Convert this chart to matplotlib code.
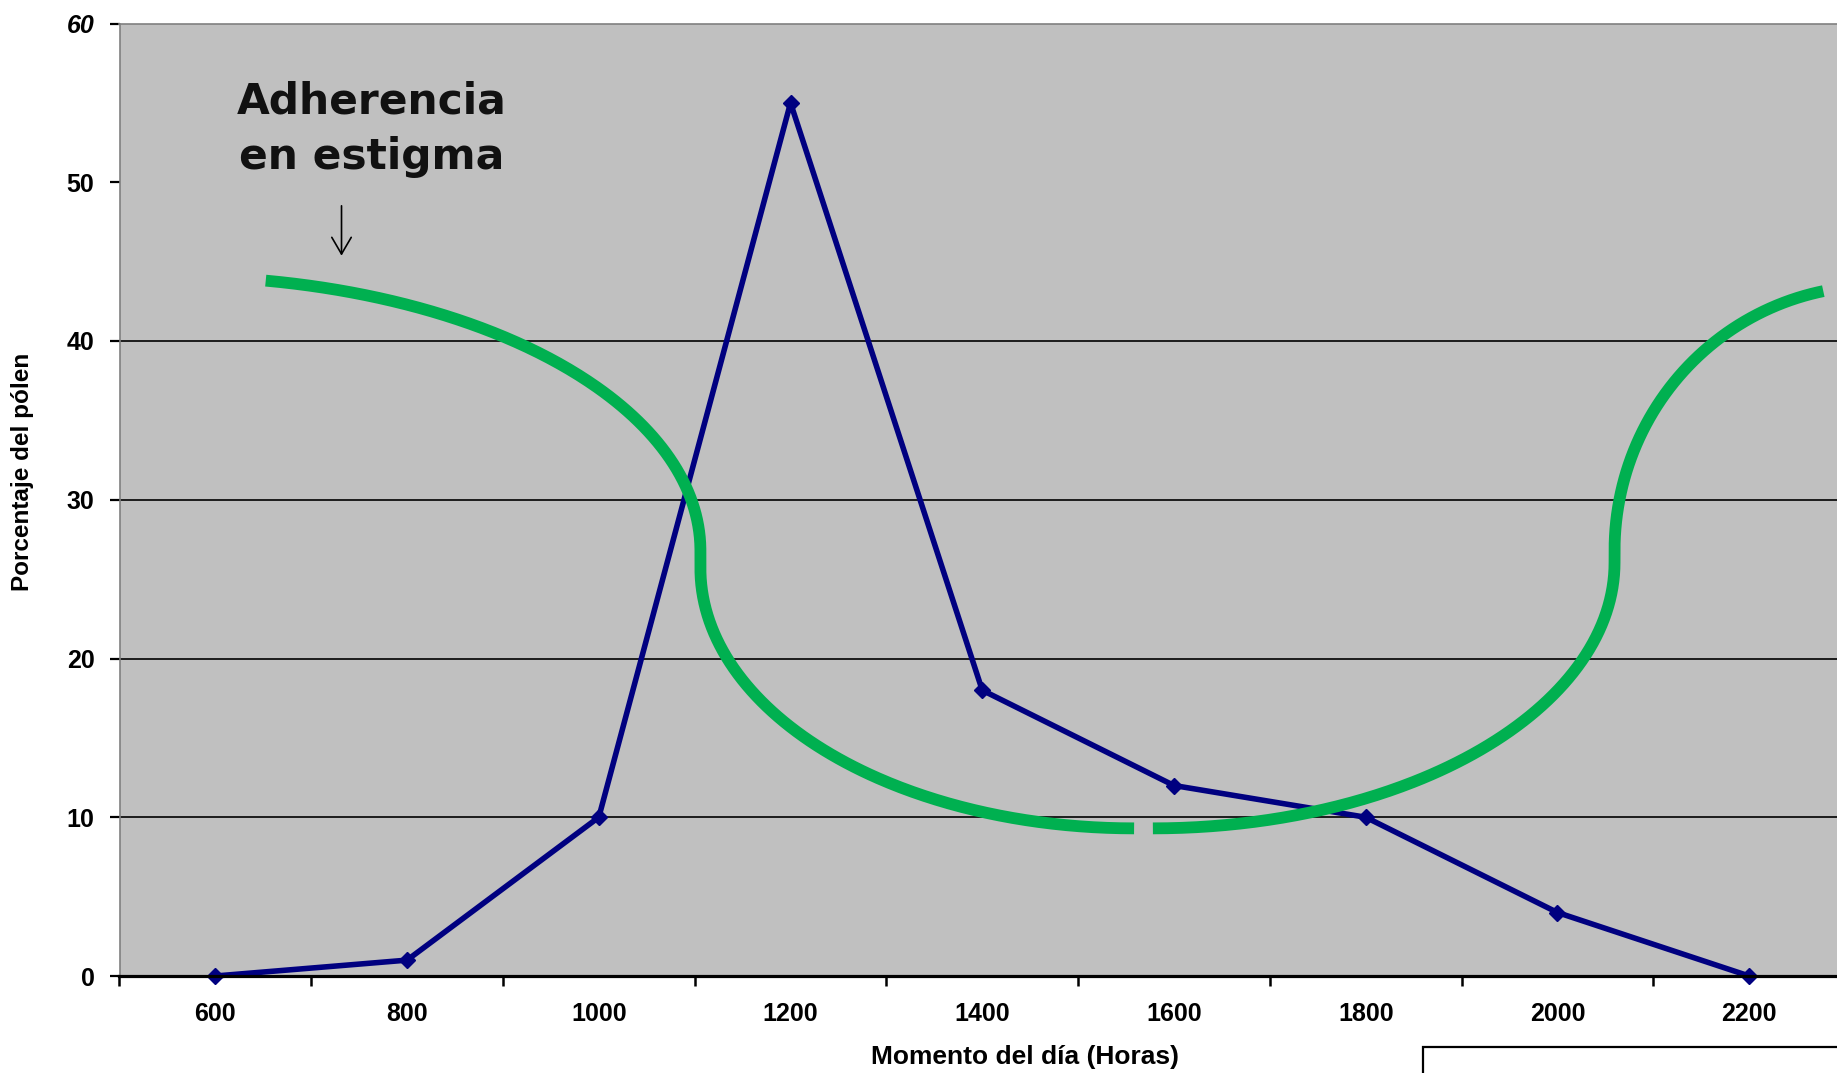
import numpy as np
import matplotlib
matplotlib.use("Agg")
import matplotlib.pyplot as plt
from matplotlib.patches import Rectangle, FancyArrowPatch

# ---------------- data ----------------
hours = ["600", "800", "1000", "1200", "1400", "1600", "1800", "2000", "2200"]
pollen_pct = [0, 1, 10, 55, 18, 12, 10, 4, 0]
y_ticks = [0, 10, 20, 30, 40, 50, 60]
grid_levels = [10, 20, 30, 40]

# hand-drawn green "adherence" curve: elliptical arcs in data units
# (center_x, center_y, radius_x, radius_y, start_deg, end_deg)
green_left = [(-0.208, 26.79, 2.738, 17.27, 80.1, 0.0),
              (4.792, 25.68, 2.262, 16.38, 180.0, 270.0)]
green_right = [(4.890, 26.05, 2.408, 16.75, 270.0, 360.0),
               (8.655, 26.79, 1.357, 16.68, 180.0, 101.4)]

annot_lines = ["Adherencia", "en estigma"]

plt.rcParams["font.family"] = ["Liberation Sans", "DejaVu Sans"]

W, H = 1837, 1073
fig = plt.figure(figsize=(W / 100, H / 100), dpi=100)
left, right, top, bottom = 119.5, 1845.0, 23.5, 976.0
ax = fig.add_axes([left / W, 1 - bottom / H, (right - left) / W, (bottom - top) / H])
ax.set_facecolor("#C0C0C0")

x = np.arange(len(hours))
ax.set_xlim(-0.5, len(hours) - 0.5)
ax.set_ylim(0, 60)

for g in grid_levels:
    ax.axhline(g, color="black", lw=1.2, zorder=1)

ax.plot(x, pollen_pct, color="#000080", lw=4.0, marker="D", ms=8.5,
        zorder=3, clip_on=False)


def arc_points(arcs):
    xs, ys = [], []
    for cx, cy, rx, ry, a0, a1 in arcs:
        t = np.radians(np.linspace(a0, a1, 200))
        xs.append(cx + rx * np.cos(t))
        ys.append(cy + ry * np.sin(t))
    return np.concatenate(xs), np.concatenate(ys)


for arcs in (green_left, green_right):
    gx, gy = arc_points(arcs)
    ax.plot(gx, gy, color="#00B050", lw=8.5, solid_capstyle="butt",
            solid_joinstyle="round", zorder=4)

# annotation text and arrow
ax.text(0.816, 54.35, annot_lines[0], ha="center", va="baseline",
        fontsize=30.5, fontweight="bold", family="DejaVu Sans", color="#111111", zorder=5)
ax.text(0.816, 50.83, annot_lines[1], ha="center", va="baseline",
        fontsize=30.5, fontweight="bold", family="DejaVu Sans", color="#111111", zorder=5)
arr = FancyArrowPatch((0.658, 48.69), (0.658, 45.2),
                      arrowstyle="->,head_length=1.2,head_width=0.7",
                      mutation_scale=10, lw=1.2, color="black", zorder=5)
ax.add_patch(arr)

# spines
for s in ["left", "top"]:
    ax.spines[s].set_color("#808080")
    ax.spines[s].set_linewidth(1.2)
ax.spines["right"].set_visible(False)
ax.spines["bottom"].set_color("black")
ax.spines["bottom"].set_linewidth(2.3)
ax.spines["bottom"].set_zorder(6)

# ticks
ax.set_xticks(x)
ax.set_xticklabels(hours)
ax.set_xticks(np.arange(-0.5, len(hours), 1.0), minor=True)
ax.tick_params(axis="x", which="major", length=0, pad=19, labelsize=18)
ax.tick_params(axis="x", which="minor", length=7, width=1.8, direction="out", color="black")
ax.set_yticks(y_ticks)
ax.set_yticklabels([str(v) for v in y_ticks])
ax.tick_params(axis="y", length=7, width=1.6, direction="out", color="black",
               pad=11, labelsize=18)
for lab in ax.get_xticklabels() + ax.get_yticklabels():
    lab.set_fontweight("bold")
ax.get_yticklabels()[-1].set_style("italic")

# axis titles
fig.text(1025 / W, 1 - 1064 / H, "Momento del día (Horas)", ha="center", va="baseline",
         fontsize=19, fontweight="bold")
fig.text(23 / W, 1 - 472 / H, "Porcentaje del pólen", ha="center", va="center",
         rotation=90, fontsize=17.5, fontweight="bold")

# box at bottom right
fig.add_artist(Rectangle((1423 / W, -0.02), 0.3, 0.02 + (1 - 1047 / H),
                         transform=fig.transFigure, facecolor="white",
                         edgecolor="black", lw=1.6, clip_on=False))

fig.savefig("out.png", dpi=100)
